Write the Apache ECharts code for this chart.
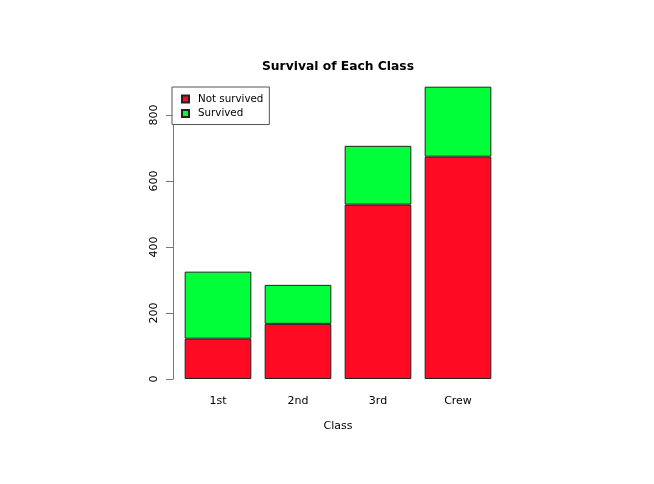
<!DOCTYPE html>
<html><head><meta charset="utf-8">
<script src="https://cdn.jsdelivr.net/npm/echarts@6/dist/echarts.min.js"></script>
<style>html,body{margin:0;padding:0;background:#fff}#c{width:654px;height:484px}</style>
</head><body><div id="c"></div>
<script>
const categories = ['1st', '2nd', '3rd', 'Crew'];
const notSurvived = [122, 167, 528, 673];
const survived = [203, 118, 178, 212];
const yTicks = [0, 200, 400, 600, 800];
const seriesNames = ['Not survived', 'Survived'];

const chart = echarts.init(document.getElementById('c'), null, {renderer: 'canvas'});
const font = 'DejaVu Sans';
chart.setOption({
  animation: false,
  backgroundColor: '#fff',
  title: {
    text: 'Survival of Each Class', left: 333, top: 56, textAlign: 'center',
    textStyle: {fontFamily: font, fontSize: 12.3, fontWeight: 'bold', color: '#000'}
  },
  legend: {
    data: seriesNames, orient: 'vertical', left: 172, top: 87,
    backgroundColor: '#fff', borderColor: '#555', borderWidth: 1,
    padding: [7, 6, 6, 9], itemWidth: 7, itemHeight: 7, itemGap: 4.5, icon: 'rect',
    textStyle: {fontFamily: font, fontSize: 10.3, color: '#000', padding: [0, 0, 0, 4]},
    z: 10
  },
  grid: [
    {left: 178, right: 156, top: 75, bottom: 105},
    {left: 173, right: 151, top: 115, bottom: 105}
  ],
  xAxis: [
    {type: 'category', data: categories, gridIndex: 0, axisLine: {show: false}, axisTick: {show: false},
     axisLabel: {fontFamily: font, fontSize: 11, color: '#000', margin: 17},
     name: 'Class', nameLocation: 'middle', nameGap: 42,
     nameTextStyle: {fontFamily: font, fontSize: 11, color: '#000'}},
    {type: 'category', data: categories, gridIndex: 1, show: false}
  ],
  yAxis: [
    {type: 'value', gridIndex: 0, min: 0, max: 920.4, show: false},
    {type: 'value', gridIndex: 1, min: 0, max: 800, interval: 200,
     axisLine: {show: true, lineStyle: {color: '#777'}},
     axisTick: {show: true, length: 7, lineStyle: {color: '#777'}},
     splitLine: {show: false},
     axisLabel: {fontFamily: font, fontSize: 11, color: '#000', rotate: 90, margin: 13,
                 formatter: v => yTicks.includes(v) ? String(v) : ''}}
  ],
  series: [
    {name: seriesNames[0], type: 'bar', stack: 's', data: notSurvived, barCategoryGap: '16.667%',
     itemStyle: {color: '#ff0a22', borderColor: '#222', borderWidth: 1}},
    {name: seriesNames[1], type: 'bar', stack: 's', data: survived, barCategoryGap: '16.667%',
     itemStyle: {color: '#00ff38', borderColor: '#222', borderWidth: 1}}
  ]
});
</script></body></html>
